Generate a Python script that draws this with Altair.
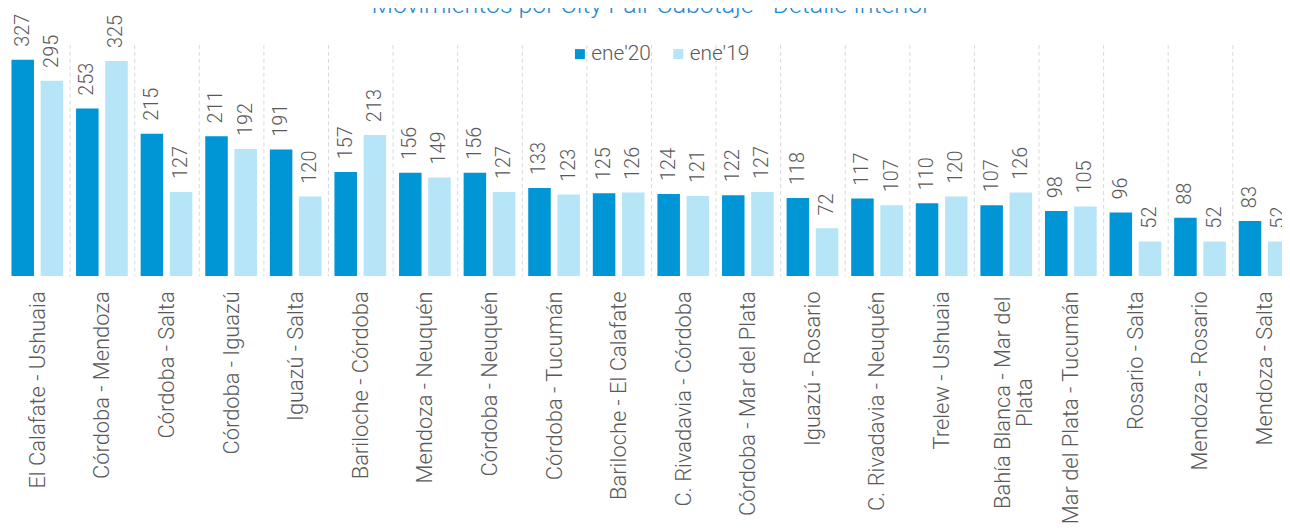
import altair as alt
import pandas as pd

pairs = [
    "El Calafate - Ushuaia", "Córdoba - Mendoza", "Córdoba - Salta", "Córdoba - Iguazú",
    "Iguazú - Salta", "Bariloche - Córdoba", "Mendoza - Neuquén", "Córdoba - Neuquén",
    "Córdoba - Tucumán", "Bariloche - El Calafate", "C. Rivadavia - Córdoba",
    "Córdoba - Mar del Plata", "Iguazú - Rosario", "C. Rivadavia - Neuquén",
    "Trelew - Ushuaia", "Bahía Blanca - Mar del Plata", "Mar del Plata - Tucumán",
    "Rosario - Salta", "Mendoza - Rosario", "Mendoza - Salta",
]
ene20 = [327, 253, 215, 211, 191, 157, 156, 156, 133, 125, 124, 122, 118, 117, 110, 107, 98, 96, 88, 83]
ene19 = [295, 325, 127, 192, 120, 213, 149, 127, 123, 126, 121, 127, 72, 107, 120, 126, 105, 52, 52, 52]
series = ["ene'20", "ene'19"]
colors = ["#0096D6", "#B5E5F6"]
title_text = "Movimientos por City Pair Cabotaje - Detalle Interior"
wrapped = "Bahía Blanca - Mar del Plata"
wrapped_lines = ["Bahía Blanca - Mar del", "Plata"]

rows = []
for p, a, b in zip(pairs, ene20, ene19):
    rows.append({"par": p, "serie": series[0], "valor": a})
    rows.append({"par": p, "serie": series[1], "valor": b})
df = pd.DataFrame(rows)

test = f"datum.value == '{wrapped}'"
label_expr = f"{test} ? ['{wrapped_lines[0]}', '{wrapped_lines[1]}'] : datum.label"

FONT = "Roboto Light, Roboto"
GRAY = "#595959"

base = alt.Chart(df).encode(
    x=alt.X(
        "par:N", sort=pairs,
        scale=alt.Scale(paddingInner=0, paddingOuter=0),
        axis=alt.Axis(
            title=None, labelAngle=270,
            labelAlign={"condition": {"test": test, "value": "center"}, "value": "right"},
            labelPadding={"condition": {"test": test, "value": 127}, "value": 15},
            labelOffset={"condition": {"test": test, "value": -4}, "value": 0},
            labelBaseline="middle",
            labelFontSize=22, labelFont=FONT, labelFontWeight=300, labelColor=GRAY,
            labelLimit=600, ticks=False, domain=False, grid=True,
            tickBand="extent", gridDash=[4, 3], gridColor="#D9D9D9", gridWidth=1,
            labelExpr=label_expr, labelLineHeight=22,
        ),
    ),
    xOffset=alt.XOffset("serie:N", sort=series,
                        scale=alt.Scale(paddingInner=0.228, paddingOuter=0.221)),
    y=alt.Y("valor:Q", scale=alt.Scale(domain=[0, 350]), axis=None),
)

bars = base.mark_bar().encode(
    color=alt.Color(
        "serie:N", sort=series,
        scale=alt.Scale(domain=series, range=colors),
        legend=alt.Legend(
            orient="none", legendX=568, legendY=-1, direction="horizontal", title=None,
            labelFontSize=21, labelFont=FONT, labelFontWeight=300, labelColor=GRAY,
            symbolType="square", symbolSize=100, symbolStrokeWidth=0,
            labelOffset=1, columnPadding=17, padding=0,
        ),
    )
)

text = base.mark_text(
    angle=270, align="left", baseline="middle", dx=13,
    fontSize=20, font=FONT, fontWeight=300, color=GRAY,
).encode(text="valor:Q")

chart = alt.layer(bars, text).properties(
    width=1300, height=233,
    title=alt.TitleParams(
        title_text, fontSize=25, font=FONT, fontWeight=300, color="#1F88D0",
        anchor="middle", frame="group", baseline="alphabetic", offset=-2, dy=22,
    ),
    padding={"left": -3, "top": 35, "right": -15, "bottom": 254},
    autosize=alt.AutoSizeParams(type="none"),
).configure_view(stroke=None)

chart.save("out.html", embed_options={"renderer": "svg", "actions": False})
